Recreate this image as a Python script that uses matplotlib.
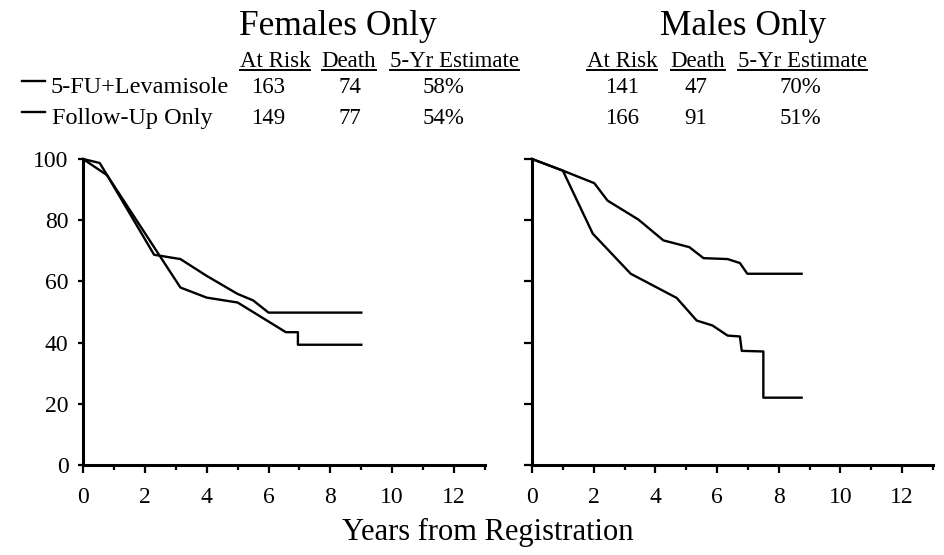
import matplotlib
matplotlib.use("Agg")
import matplotlib.pyplot as plt
from matplotlib.lines import Line2D

plt.rcParams['font.family'] = ['Liberation Serif', 'DejaVu Serif']

# survival curves (years, percent alive)
fem_lev_t = [0, 0.54, 0.78, 2.3, 3.15, 4.0, 5.0, 5.5, 6.0, 9.0]
fem_lev_s = [100, 98.7, 94.7, 68.7, 67.3, 61.8, 55.9, 53.8, 49.8, 49.8]
fem_obs_t = [0, 0.78, 3.15, 4.0, 5.0, 6.56, 6.95, 6.95, 9.0]
fem_obs_s = [100, 94.7, 58.0, 54.7, 53.1, 43.4, 43.4, 39.3, 39.3]

male_lev_t = [0, 1.0, 2.02, 2.45, 3.45, 4.26, 5.1, 5.56, 6.34, 6.74, 6.98, 8.74]
male_lev_s = [100, 96.2, 92.1, 86.4, 80.2, 73.4, 71.2, 67.6, 67.3, 66.0, 62.5, 62.5]
male_obs_t = [0, 1.0, 1.97, 3.2, 4.69, 5.34, 5.85, 6.34, 6.74, 6.8, 7.5, 7.5, 8.74]
male_obs_s = [100, 96.2, 75.6, 62.5, 54.6, 47.2, 45.6, 42.3, 42.0, 37.3, 37.1, 22.0, 22.0]

groups = ['5-FU+Levamisole', 'Follow-Up Only']
headers = ['At Risk', 'Death', '5-Yr Estimate']
fem_table = [['163', '74', '58%'], ['149', '77', '54%']]
male_table = [['141', '47', '70%'], ['166', '91', '51%']]

W, H = 944, 555
fig = plt.figure(figsize=(W / 100, H / 100), dpi=100)


def fx(x):
    return x / W


def fy(y):
    return 1 - y / H


def setup(ax, ylabels, ytick_len):
    ax.set_xlim(0, 13)
    ax.set_ylim(0, 100)
    for s in ['top', 'right']:
        ax.spines[s].set_visible(False)
    for s in ['left', 'bottom']:
        ax.spines[s].set_linewidth(2.2)
    ax.set_xticks(range(0, 13, 2))
    ax.set_xticks(range(1, 14, 2), minor=True)
    ax.set_yticks(range(0, 101, 20))
    ax.tick_params(axis='x', which='major', length=5.5, width=1.6, pad=10, labelsize=17)
    ax.tick_params(axis='x', which='minor', length=3.8, width=1.6)
    ax.tick_params(axis='y', length=ytick_len, width=1.6, pad=7, labelsize=17,
                   labelleft=ylabels)


axL = fig.add_axes([fx(83), fy(465), fx(402), 306 / H])
axR = fig.add_axes([fx(532), fy(465), fx(401), 306 / H])
setup(axL, True, 3.5)
setup(axR, False, 6)

lw = 1.7
axL.plot(fem_lev_t, fem_lev_s, color='black', lw=lw, clip_on=False)
axL.plot(fem_obs_t, fem_obs_s, color='black', lw=lw, clip_on=False)
axR.plot(male_lev_t, male_lev_s, color='black', lw=lw, clip_on=False)
axR.plot(male_obs_t, male_obs_s, color='black', lw=lw, clip_on=False)

# titles
fig.text(fx(338), fy(35), 'Females Only', ha='center', va='baseline', fontsize=25.5)
fig.text(fx(743), fy(35), 'Males Only', ha='center', va='baseline', fontsize=25.5)

# table headers with underline
fem_cols = [275, 349, 454]
male_cols = [622, 698, 802]
fem_vals = [268, 350, 444]
male_vals = [622, 696, 800]
head_texts = []
for cols in (fem_cols, male_cols):
    for cx, h in zip(cols, headers):
        head_texts.append(fig.text(fx(cx), fy(67), h, ha='center', va='baseline', fontsize=16.5))

row_y = [93, 124]
for r in range(2):
    for cx, v in zip(fem_vals, fem_table[r]):
        fig.text(fx(cx), fy(row_y[r]), v, ha='center', va='baseline', fontsize=16.5)
    for cx, v in zip(male_vals, male_table[r]):
        fig.text(fx(cx), fy(row_y[r]), v, ha='center', va='baseline', fontsize=16.5)

# legend
leg_x = [50, 52]
leg_line_y = [81, 112]
for r in range(2):
    fig.add_artist(Line2D([fx(22), fx(45)], [fy(leg_line_y[r])] * 2, color='black', lw=1.7))
    fig.text(fx(leg_x[r]), fy(row_y[r]), groups[r], ha='left', va='baseline', fontsize=17.5)

fig.text(fx(488), fy(540), 'Years from Registration', ha='center', va='baseline', fontsize=22)

fig.canvas.draw()
renderer = fig.canvas.get_renderer()
for t in head_texts:
    bb = t.get_window_extent(renderer)
    fig.add_artist(Line2D([bb.x0 / W, bb.x1 / W], [fy(70)] * 2, color='black', lw=1.4))

fig.savefig('out.png', dpi=100)
